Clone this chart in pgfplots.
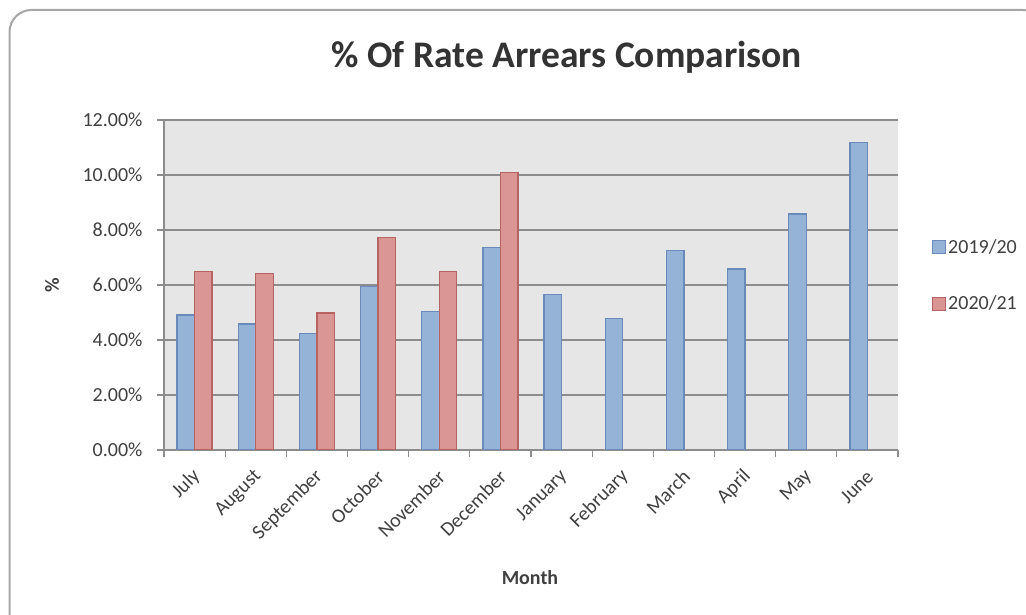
\documentclass[border=0pt]{standalone}
\usepackage{pgfplots}
\pgfplotsset{compat=1.18}
\usepackage{fontspec}
\setmainfont{Carlito}
\definecolor{bluefill}{HTML}{95B3D7}
\definecolor{blueline}{HTML}{6A8BBA}
\definecolor{redfill}{HTML}{D99694}
\definecolor{redline}{HTML}{B56462}
\definecolor{plotbg}{HTML}{E6E6E6}
\definecolor{gridc}{HTML}{8C8C8C}
\definecolor{txt}{HTML}{404040}
\definecolor{framec}{HTML}{A6A6A6}
\begin{document}
\begin{tikzpicture}
\path[use as bounding box] (0pt,0pt) rectangle (1026pt,615pt);
\begin{scope}
\clip (0pt,0pt) rectangle (1026pt,615pt);
\draw[framec, line width=2pt, rounded corners=22pt] (9.5pt,605pt) rectangle (1045pt,-20pt);
\end{scope}
\begin{axis}[
  at={(164pt,165pt)}, anchor=south west,
  scale only axis, width=734pt, height=330pt,
  xmin=-0.5, xmax=11.5, ymin=0, ymax=12,
  axis background/.style={fill=plotbg},
  axis lines=left, axis line style={-, draw=gridc, line width=1.2pt},
  tick align=outside, major tick length=7pt,
  tick style={draw=gridc, line width=1.2pt},
  xtick={-0.5,0.5,...,11.5}, xticklabels={},
  extra x ticks={0,1,...,11},
  extra x tick labels={July,August,September,October,November,December,January,February,March,April,May,June},
  extra x tick style={major tick length=0pt, grid=none,
     tick label style={xshift=5pt, yshift=-21pt, rotate=45, anchor=east}},
  ytick={0,2,...,12},
  yticklabel={\pgfmathprintnumber[fixed,fixed zerofill,precision=2]{\tick}\%},
  yticklabel style={xshift=-11pt},
  ymajorgrids, grid style={draw=gridc, line width=1.2pt},
  tick label style={font=\fontsize{20}{22}\selectfont, text=txt},
  /pgf/number format/assume math mode=true,
  title={\% Of Rate Arrears Comparison},
  title style={at={(axis description cs:0.549,1.1615)}, anchor=base, yshift=-7pt,
     font=\fontsize{37.5}{42}\selectfont\bfseries, text=txt!80!black},
  xlabel={Month},
  xlabel style={at={(axis description cs:0.4986,-0.409)}, anchor=base,
     font=\fontsize{20}{24}\selectfont\bfseries, text=txt},
  ylabel={\%},
  ylabel style={at={(axis description cs:-0.1526,0.5)}, anchor=center,
     font=\fontsize{20}{24}\selectfont\bfseries, text=txt},
  legend image code/.code={\draw[#1,/tikz/.cd,bar shift=0pt] (0pt,-6.5pt) rectangle (13pt,6.5pt);},
  legend style={at={(1.042,0.529)}, anchor=west, draw=none, fill=none,
     font=\fontsize{20}{22}\selectfont, text=txt, row sep=37pt},
  legend cell align=left,
]
\addplot[ybar, bar width=17.5pt, bar shift=-8.75pt, fill=bluefill, draw=blueline, line width=1.2pt]
  coordinates {(0,4.91) (1,4.58) (2,4.24) (3,5.94) (4,5.05) (5,7.36) (6,5.64) (7,4.79) (8,7.24) (9,6.58) (10,8.58) (11,11.18)};
\addlegendentry{2019/20}
\addplot[ybar, bar width=17.5pt, bar shift=8.75pt, fill=redfill, draw=redline, line width=1.2pt]
  coordinates {(0,6.48) (1,6.41) (2,4.98) (3,7.72) (4,6.48) (5,10.10)};
\addlegendentry{2020/21}
\end{axis}
\end{tikzpicture}
\end{document}
